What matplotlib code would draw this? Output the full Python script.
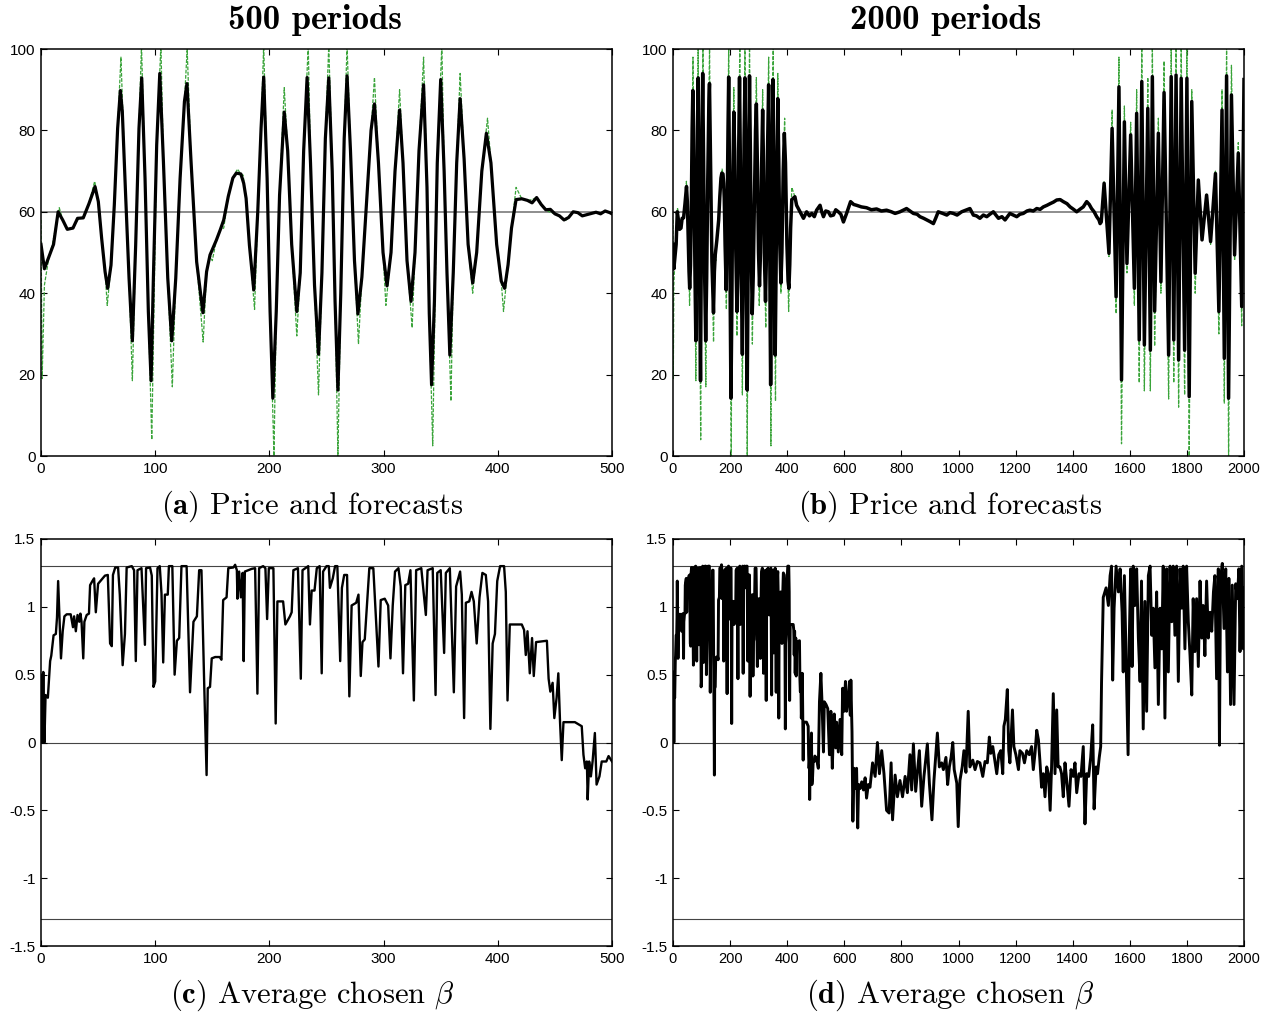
import numpy as np
import matplotlib
matplotlib.use("Agg")
import matplotlib.pyplot as plt

plt.rcParams['font.family'] = ['Liberation Sans', 'DejaVu Sans']
plt.rcParams['mathtext.fontset'] = 'cm'
plt.rcParams['axes.unicode_minus'] = False

# ---- panel (a): price (black) and forecasts (green), 500 periods ----
a_t = [0, 3, 7, 11, 15, 19, 23, 28, 32, 37,
       42, 47.3, 50.2, 53.1, 56.1, 58.4, 61.3, 64.2, 67.1, 69.5,
       71.2, 74.1, 77.1, 80, 82.9, 85.8, 88.2, 91.1, 94, 96.4,
       98.4, 101.3, 104, 107.2, 111, 114.5, 118, 121.8, 125.6, 127.8,
       131.4, 136.3, 141.8, 145, 148, 150, 153.5, 157, 160, 164,
       168, 171, 175, 177.5, 179.6, 182.5, 186.3, 189.8, 192.7, 195,
       198, 200.6, 203, 206, 208.9, 213, 216, 219.5, 224, 227,
       230, 233, 236, 239.5, 243, 246, 249, 252, 255, 257.5,
       260, 262.5, 265.5, 268, 271, 274.5, 277.5, 281, 285, 289,
       292, 295.5, 299.5, 303, 306.5, 310, 314, 317, 320.5, 324,
       327.5, 331, 335, 338, 340, 342, 344.5, 347, 350, 353,
       355.5, 358, 361, 364, 367, 370.5, 374, 378, 381.5, 386,
       390, 394, 399, 403, 406, 409, 412, 416, 421, 426,
       430, 434, 438, 442, 446, 450, 454, 458, 462, 466,
       470, 474, 478, 482, 486, 490, 494, 498, 500]
a_price = [52, 46, 49, 52, 60, 58, 55.7, 56, 58.4, 58.5,
           62, 66.2, 62.5, 53.5, 45.3, 41.2, 46.9, 61.7, 80.5, 89.8,
           84.6, 64.1, 43.7, 28.3, 51.8, 80.5, 92.9, 68.2, 35.5, 18.5,
           43.7, 76.4, 94, 72.3, 43.7, 28.3, 43.7, 68.2, 87.1, 91.5,
           72.3, 47.7, 35.2, 45.3, 49.4, 50.7, 53, 55.6, 58, 63.8,
           68.3, 69.5, 69.3, 67, 63.3, 51.8, 40.8, 60, 80.5, 93.1,
           68.2, 35.5, 14.2, 35.5, 64.1, 84.5, 75, 52, 35.5, 45,
           75, 93, 72, 42, 25, 45, 78, 92.9, 70, 38,
           16.2, 40, 78, 93.4, 75, 48, 34.9, 44, 62, 80,
           86.5, 72, 50, 41.8, 50, 70, 85, 72, 48, 38,
           50, 75, 91.2, 66, 35, 17.5, 38, 72, 92.5, 70,
           45, 24.8, 45, 72, 87.8, 73, 52, 42.5, 50, 70,
           79.3, 72, 52, 43, 41.2, 47, 56, 63, 63.2, 62.8,
           62.2, 63.5, 61.8, 60.5, 60.6, 59.5, 59, 58, 58.6, 60,
           59.8, 59, 59.3, 59.6, 59.9, 59.5, 60.2, 59.8, 59.5]

# forecasts: where they differ visibly from the price (mostly overshoots)
a_fc_t = [0, 1, 3, 10, 16, 24, 32, 38, 47, 58,
          70, 80, 88, 97, 105, 115, 128, 142, 150, 160,
          172, 177, 187, 195, 204, 213, 224, 234, 243, 252,
          260, 268, 278, 292, 302, 314, 325, 335, 343, 351,
          359, 367, 378, 391, 405, 416, 430, 445, 460, 480, 500]
a_fc = [58, 19, 42, 52, 61, 55.5, 58, 59, 67.5, 37,
        98, 18.5, 101, 4, 101, 17, 100, 28, 48, 56,
        70.5, 69, 36, 101, 0, 90.5, 29.5, 101, 15, 101,
        0, 101, 27.5, 93, 37, 90, 31.5, 98, 2.5, 101,
        13.5, 94, 40, 83, 35.5, 66, 63, 60, 58, 59.5, 59.5]

# ---- panel (b): 2000 periods (first 416 periods as in panel a) ----
b_mid_t = [427, 433, 445, 457, 468, 478, 486, 495, 503, 515,
           521, 527, 535, 544, 552, 562, 570, 579, 588, 597,
           608, 622, 633, 643, 660, 678, 695, 713, 730, 748,
           765, 778, 795, 818, 830, 842, 855, 865, 878, 889,
           900, 912, 920, 929, 945, 959, 970, 982, 995, 1011,
           1025, 1040, 1052, 1063, 1075, 1087, 1099, 1110, 1122, 1140,
           1152, 1163, 1180, 1192, 1204, 1215, 1227, 1240, 1250, 1262,
           1274, 1286, 1297, 1310, 1321, 1333, 1344, 1356, 1367, 1380,
           1391, 1403, 1414, 1425, 1437, 1449, 1458, 1466, 1475, 1484, 1492]
b_mid = [63.7, 61.6, 60, 58.4, 60, 59, 59.6, 58.8, 60.4, 61.6,
         60, 58.8, 60.2, 60, 59, 59.2, 60.5, 60, 59.4, 57.5,
         59.6, 62.5, 61.8, 61.6, 61.2, 61, 60.5, 60.7, 60.2, 60.4,
         60, 59.6, 60, 60.8, 60.2, 59.6, 59.4, 58.8, 58.4, 58,
         57.6, 57.1, 58.4, 60, 59.6, 59.2, 59.8, 59.6, 59.2, 60,
         60.4, 60.8, 59.2, 59, 58.4, 59.2, 58.8, 59.4, 60, 58.4,
         58.8, 58, 59.6, 59.2, 58.8, 59.4, 59.6, 60.2, 60.4, 60.2,
         60.8, 60.6, 61.2, 61.6, 62, 62.4, 62.9, 63, 62.5, 62,
         61.2, 60.6, 60, 60.6, 61.2, 62.5, 61.8, 60.8, 60, 58.8, 58]

b_end_t = [1496, 1500, 1510, 1527, 1538, 1552, 1562, 1571, 1581, 1590,
           1603, 1616, 1624, 1633, 1642, 1651, 1663, 1672, 1679, 1687,
           1700, 1709, 1720, 1736, 1745, 1754, 1762, 1771, 1780, 1792,
           1800, 1808, 1817, 1829, 1840, 1853, 1869, 1883, 1900, 1912,
           1923, 1931, 1939, 1946, 1956, 1967, 1980, 1992, 2000]
b_end = [57.1, 57.5, 67, 49.8, 80.5, 39.1, 90.7, 18.7, 82.1, 47.3,
         78.9, 41.2, 84.2, 28.5, 92, 27.3, 85.4, 26, 93.2, 35.6,
         79.3, 42.8, 89.3, 24.8, 93.2, 28.5, 93.6, 23.6, 92.8, 26,
         92.8, 14.6, 87.1, 44.9, 67.8, 53.1, 64.1, 52.7, 69.4, 35.5,
         85, 24, 93.4, 14.2, 88.7, 49.4, 74.4, 36.7, 92.5]
b_end_fc = [57, 57.5, 67.5, 49, 85, 35, 98, 3, 86, 45,
            82, 37, 90, 18, 101, 16, 93, 16, 101, 27,
            83, 40, 97, 14, 101, 18, 101, 12, 101, 15,
            101, 0, 90, 40, 68, 53, 64.5, 52, 70, 30,
            90, 13, 101, 0, 96, 48, 77, 32, 92]

# ---- panel (c): average chosen beta, 500 periods ----
c_t = [0, 1, 2, 3, 4, 6, 8, 9, 11, 13,
       14, 15, 16, 17.5, 19, 20.5, 22.5, 26, 28, 29,
       30.5, 32, 33.5, 34.5, 35.5, 37, 38, 40, 42, 43,
       45, 46.5, 48, 50, 53, 56, 58.5, 60.5, 62, 63,
       65, 67.5, 69, 71.5, 73.5, 75, 79.5, 81.5, 83, 84.5,
       88, 91, 92, 95.5, 97, 98.5, 100, 102, 104, 105.5,
       107, 108.5, 111, 112, 115, 117, 119, 121, 123, 127.5,
       130.5, 133.5, 136.5, 138.5, 140.5, 143, 145, 146, 148, 149.5,
       152.5, 156.5, 158, 159.5, 162.5, 164, 168.5, 170, 171.5, 172,
       173.5, 175, 176.5, 177.5, 178.5, 184.5, 187.5, 189.5, 191, 194.5,
       196.5, 198, 199.5, 203.5, 205.5, 207, 212, 214, 218, 219.5,
       221, 225, 227.5, 229, 234, 235.5, 237, 239.5, 241.5, 244,
       245.8, 247, 250, 252, 253, 255.5, 257.5, 259.5, 262, 263.5,
       265.5, 268, 270, 272, 276, 278, 280, 281.5, 283.5, 287.5,
       291, 295.5, 297.5, 301, 304, 306, 308, 310, 313, 315,
       317, 319, 321.5, 323.5, 326.5, 328.5, 333, 337, 338.5, 343,
       345.5, 347, 350, 353, 354.5, 358, 361.5, 363.5, 367, 368.5,
       370.5, 372, 375, 377, 379, 381.5, 384, 386.5, 389.5, 391.5,
       393.5, 395.5, 397.5, 399.5, 402, 405.5, 407, 408.5, 410.5, 421,
       423, 424.5, 426, 428, 430, 431.5, 433.5, 443, 444.5, 446,
       448, 449.5, 451.5, 453, 454.5, 456, 457.5, 467.5, 473.5, 475,
       476.5, 478, 478.7, 480, 481.5, 483, 485, 486.5, 489, 491,
       495, 497, 500]
c_beta = [0.50, 0.0, 0.52, 0.0, 0.35, 0.33, 0.60, 0.64, 0.79, 0.80,
          0.92, 1.19, 0.96, 0.62, 0.82, 0.93, 0.945, 0.945, 0.85, 0.93,
          0.82, 0.94, 0.89, 0.95, 0.89, 0.62, 0.89, 0.94, 0.95, 1.16,
          1.19, 1.21, 0.96, 1.17, 1.20, 1.23, 1.235, 0.73, 0.71, 1.235,
          1.29, 1.29, 1.09, 0.57, 0.80, 1.29, 1.30, 1.27, 0.60, 1.27,
          1.285, 0.72, 1.285, 1.29, 1.23, 0.41, 0.45, 1.285, 1.30, 1.10,
          0.59, 1.09, 1.09, 1.30, 1.30, 0.50, 0.75, 0.77, 1.30, 1.30,
          0.37, 0.89, 0.93, 1.27, 1.27, 0.40, -0.24, 0.40, 0.41, 0.62,
          0.63, 0.63, 0.61, 1.05, 1.07, 1.285, 1.29, 1.31, 1.27, 1.06,
          1.26, 1.07, 1.25, 0.60, 1.26, 1.28, 1.285, 0.36, 1.285, 1.30,
          1.285, 0.91, 1.285, 1.285, 0.14, 1.04, 1.04, 0.87, 0.93, 0.96,
          1.27, 1.285, 0.47, 1.27, 1.30, 0.87, 1.12, 1.12, 1.285, 1.30,
          0.51, 1.26, 1.30, 1.30, 1.14, 1.21, 1.30, 1.30, 0.60, 1.14,
          1.235, 1.235, 0.34, 1.01, 1.03, 1.09, 0.49, 0.74, 0.76, 1.285,
          1.285, 0.56, 1.05, 1.06, 1.01, 0.62, 1.01, 1.26, 1.285, 1.15,
          0.51, 1.16, 1.17, 1.27, 0.31, 1.27, 1.285, 0.94, 1.27, 1.285,
          0.35, 1.25, 1.27, 0.66, 1.25, 1.285, 0.37, 1.15, 1.26, 1.09,
          0.18, 1.03, 1.04, 1.11, 1.04, 0.73, 1.07, 1.25, 1.235, 1.04,
          0.10, 0.73, 0.80, 1.19, 1.30, 1.30, 1.11, 0.31, 0.87, 0.87,
          0.83, 0.645, 0.82, 0.51, 0.77, 0.49, 0.74, 0.75, 0.47, 0.375,
          0.44, 0.18, 0.33, 0.51, 0.15, -0.13, 0.15, 0.15, 0.12, -0.09,
          -0.19, -0.14, -0.42, -0.14, -0.25, -0.14, 0.07, -0.31, -0.25, -0.14,
          -0.14, -0.10, -0.14]

# ---- panel (d): 2000 periods (first 500 periods as in panel c) ----
d_t = [503, 509, 513, 518, 522, 527, 530, 536, 542, 548,
       553, 558, 562, 565, 570, 573, 579, 585, 591, 594,
       599, 604, 608, 614, 618, 621, 623, 627, 630, 634,
       639, 643, 647, 650, 655, 661, 667, 673, 678, 684,
       690, 699, 708, 716, 723, 731, 739, 748, 757, 764,
       769, 778, 786, 795, 804, 813, 821, 830, 836, 842,
       850, 863, 871, 879, 891, 898, 907, 914, 920, 926,
       933, 941, 947, 956, 962, 968, 974, 980, 985, 994,
       999, 1005, 1013, 1019, 1026, 1034, 1040, 1050, 1058, 1066,
       1075, 1085, 1093, 1101, 1108, 1113, 1120, 1127, 1134, 1141,
       1148, 1155, 1159, 1164, 1171, 1176, 1180, 1189, 1194, 1201,
       1210, 1215, 1224, 1231, 1239, 1248, 1256, 1262, 1268, 1274,
       1280, 1285, 1291, 1297, 1303, 1309, 1315, 1321, 1326, 1332,
       1338, 1344, 1349, 1355, 1361, 1367, 1373, 1379, 1387, 1394,
       1402, 1408, 1414, 1422, 1429, 1437, 1443, 1449, 1456, 1463,
       1470, 1475, 1482, 1487, 1493, 1498, 1501, 1504, 1507, 1517,
       1525, 1531, 1536, 1540, 1545, 1552, 1560, 1566, 1573, 1577,
       1581, 1587, 1594, 1598, 1603, 1608, 1612, 1618, 1624, 1630,
       1636, 1641, 1647, 1653, 1659, 1665, 1671, 1677, 1682, 1688,
       1694, 1700, 1706, 1712, 1717, 1723, 1729, 1735, 1741, 1747,
       1752, 1758, 1764, 1770, 1776, 1782, 1787, 1793, 1799, 1805,
       1811, 1817, 1822, 1828, 1834, 1840, 1846, 1852, 1857, 1863,
       1869, 1875, 1881, 1887, 1893, 1898, 1904, 1910, 1914, 1918,
       1924, 1930, 1936, 1942, 1947, 1953, 1959, 1965, 1971, 1977,
       1982, 1986, 1992, 1998, 2000]
d_beta = [-0.12, -0.19, 0.30, 0.51, 0.29, -0.07, 0.30, 0.28, 0.25, -0.09,
          0.23, -0.19, 0.10, 0.21, -0.04, 0.15, -0.07, 0.17, -0.09, 0.40,
          0.23, 0.45, 0.23, 0.33, 0.45, 0.20, 0.46, 0.08, -0.58, -0.19,
          -0.34, -0.19, -0.63, -0.31, -0.34, -0.29, -0.35, -0.26, -0.41, -0.31,
          -0.33, -0.15, -0.25, 0.0, -0.23, -0.06, -0.23, -0.50, -0.52, -0.15,
          -0.57, -0.24, -0.40, -0.28, -0.40, -0.25, -0.37, -0.09, -0.35, -0.01,
          -0.36, -0.06, -0.47, -0.25, -0.01, -0.30, -0.57, -0.28, -0.11, 0.07,
          -0.18, -0.15, -0.20, -0.11, -0.31, -0.18, -0.11, 0.0, -0.20, -0.30,
          -0.62, -0.28, -0.18, -0.06, -0.22, 0.23, -0.18, -0.13, -0.20, -0.14,
          -0.15, -0.25, -0.14, -0.15, 0.04, -0.08, -0.03, -0.13, -0.23, -0.09,
          -0.06, -0.23, 0.12, 0.17, 0.39, -0.06, -0.15, 0.24, -0.03, -0.09,
          -0.20, -0.06, -0.08, -0.15, -0.06, -0.09, -0.03, -0.20, -0.08, 0.09,
          0.02, -0.13, -0.33, -0.23, -0.40, -0.18, -0.23, -0.50, -0.18, 0.36,
          -0.23, 0.24, -0.18, -0.18, -0.23, -0.40, -0.15, -0.28, -0.47, -0.20,
          -0.25, -0.15, -0.37, -0.23, -0.25, -0.03, -0.60, -0.23, -0.25, -0.11,
          0.13, -0.49, -0.18, -0.23, -0.11, -0.03, 0.44, 0.74, 1.07, 1.14,
          1.01, 1.23, 1.30, 0.46, 0.99, 1.30, 1.11, 1.28, 0.96, 0.52,
          1.23, 0.61, -0.09, 0.74, 1.28, 0.56, 1.30, 1.01, 1.28, 0.77,
          0.45, 1.19, 0.10, 1.04, 0.23, 1.23, 1.30, 0.79, 0.99, 0.55,
          1.11, 0.28, 0.99, 0.69, 1.30, 0.18, 1.28, 0.52, 1.30, 0.89,
          1.30, 0.79, 1.30, 0.45, 1.28, 0.99, 1.30, 0.69, 1.30, 0.89,
          0.64, 0.35, 1.06, 0.67, 1.06, 0.56, 1.19, 0.77, 1.01, 0.64,
          1.19, 0.77, 0.96, 0.82, 1.11, 1.23, 0.47, 1.28, -0.02, 1.21,
          1.32, 0.84, 1.28, 0.52, 1.21, 0.28, 1.16, 0.28, 1.17, 1.06,
          1.28, 0.67, 1.30, 0.69, 1.14]

price_ticks = [0, 20, 40, 60, 80, 100]
beta_ticks = [-1.5, -1, -0.5, 0, 0.5, 1, 1.5]
beta_labels = ['-1.5', '-1', '-0.5', '0', '0.5', '1', '1.5']
titles = ['500 periods', '2000 periods']
captions = [r'$\mathbf{(a)}$ Price and forecasts', r'$\mathbf{(b)}$ Price and forecasts',
            r'$\mathbf{(c)}$ Average chosen $\beta$', r'$\mathbf{(d)}$ Average chosen $\beta$']


def merge_forecast(pt, pv, ft, fv, near=1.6):
    # forecast follows the price except at the listed points
    pt = np.asarray(pt, float)
    pv = np.asarray(pv, float)
    ft = np.asarray(ft, float)
    fv = np.asarray(fv, float)
    keep = np.array([np.min(np.abs(ft - t)) > near for t in pt])
    tt = np.concatenate([pt[keep], ft])
    vv = np.concatenate([pv[keep], fv])
    order = np.argsort(tt, kind='stable')
    return tt[order], vv[order]


# stitch the long runs: their start is the same run as the 500-period panels
a_t_arr = np.array(a_t)
keep_a = a_t_arr <= 416
b_t = np.concatenate([a_t_arr[keep_a], b_mid_t, b_end_t])
b_price = np.concatenate([np.array(a_price)[keep_a], b_mid, b_end])
a_fc_arr = np.array(a_fc_t)
keep_fc = a_fc_arr <= 416
b_fc_pts_t = np.concatenate([a_fc_arr[keep_fc], b_end_t])
b_fc_pts = np.concatenate([np.array(a_fc)[keep_fc], b_end_fc])

a_fc_line_t, a_fc_line = merge_forecast(a_t, a_price, a_fc_t, a_fc)
b_fc_line_t, b_fc_line = merge_forecast(b_t, b_price, b_fc_pts_t, b_fc_pts)

c_t_arr = np.array(c_t)
keep_c = c_t_arr <= 500
d_t_all = np.concatenate([c_t_arr[keep_c][:-1], d_t])
d_beta_all = np.concatenate([np.array(c_beta)[keep_c][:-1], d_beta])

W, H = 1277, 1014
fig = plt.figure(figsize=(W / 100, H / 100), dpi=100)

green = '#3aa43a'


def make_ax(left, top):
    ax = fig.add_axes([left / W, 1 - (top + 407) / H, 571 / W, 407 / H])
    ax.tick_params(direction='in', top=True, right=True, length=4, width=0.8,
                   labelsize=11, pad=4, colors='black')
    for s in ax.spines.values():
        s.set_linewidth(1.1)
    return ax


ax_a = make_ax(41, 49)
ax_b = make_ax(673, 49)
ax_c = make_ax(41, 539)
ax_d = make_ax(673, 539)

# price panels
for ax, tt, pp, ft, ff, xmax, step, lw in [
        (ax_a, a_t, a_price, a_fc_line_t, a_fc_line, 500, 100, 2.3),
        (ax_b, b_t, b_price, b_fc_line_t, b_fc_line, 2000, 200, 2.5)]:
    ax.axhline(60, color='#7a7a7a', lw=1.2, zorder=1)
    ax.plot(ft, ff, color=green, lw=0.9, ls=(0, (3, 1.2)), zorder=2)
    ax.plot(tt, pp, color='black', lw=lw, zorder=3)
    ax.set_xlim(0, xmax)
    ax.set_ylim(0, 100)
    ax.set_xticks(np.arange(0, xmax + 1, step))
    ax.set_yticks(price_ticks)

# beta panels
for ax, tt, bb, xmax, step, lw in [(ax_c, c_t, c_beta, 500, 100, 1.7),
                                   (ax_d, d_t_all, d_beta_all, 2000, 200, 2.1)]:
    for lvl in (1.3, 0, -1.3):
        ax.axhline(lvl, color='#444444', lw=0.8, zorder=1)
    ax.plot(tt, bb, color='black', lw=lw, zorder=3)
    ax.set_xlim(0, xmax)
    ax.set_ylim(-1.5, 1.5)
    ax.set_xticks(np.arange(0, xmax + 1, step))
    ax.set_yticks(beta_ticks)
    ax.set_yticklabels(beta_labels)

for ax in (ax_b, ax_d):
    ax.tick_params(axis='x', labelsize=10.5)

# titles and sub-captions
fig.text(315 / W, 1 - 20 / H, titles[0], fontfamily='cmb10', fontsize=25, ha='center', va='center')
fig.text(946 / W, 1 - 20 / H, titles[1], fontfamily='cmb10', fontsize=25, ha='center', va='center')
cap_pos = [(312, 506), (950, 506), (312, 995), (950, 995)]
for (cx, cy), txt in zip(cap_pos, captions):
    fig.text(cx / W, 1 - cy / H, txt, fontfamily='cmr10', fontsize=22, ha='center', va='center')

fig.savefig('out.png', dpi=100)
